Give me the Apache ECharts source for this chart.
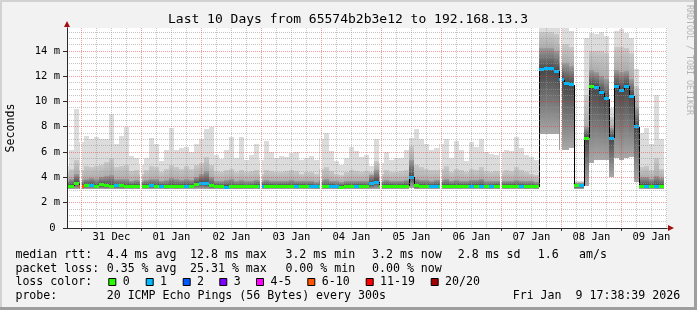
<!DOCTYPE html>
<html><head><meta charset="utf-8">
<script src="https://cdn.jsdelivr.net/npm/echarts@6/dist/echarts.min.js"></script>
<style>html,body{margin:0;padding:0;background:#f2f2f2}#c{width:697px;height:310px}</style>
</head><body><div id="c"></div>
<script>
// ---------- DATA ----------
// time axis in hours since 30 Dec 00:00
const axisStartHour = 18.24, axisEndHour = 258.24;
const bucketStartHour = 17 + 10 / 60;   // first 2-hour bucket starts 30 Dec 17:10
const bucketHours = 2;
const dayLabels = ['31 Dec','01 Jan','02 Jan','03 Jan','04 Jan','05 Jan','06 Jan','07 Jan','08 Jan','09 Jan'];
const labelHours = [36,60,84,108,132,156,180,204,228,252];
const majorHours = [24,48,72,96,120,144,168,192,216,240];
const minorHours = [30,36,42,54,60,66,78,84,90,102,108,114,126,132,138,150,156,162,174,180,186,198,204,210,222,228,234,246,252,258];
const gapHours = [24,48,96,120,144,168,192,216];
const yTicks = [0,2,4,6,8,10,12,14];
const yMinor = [0.5,1,1.5,2.5,3,3.5,4.5,5,5.5,6.5,7,7.5,8.5,9,9.5,10.5,11,11.5,12.5,13,13.5,14.5,15,15.5];

// RTT distribution per bucket (ms)
const lo = [3.05,3.05,3.1,3.05,3.05,3.05,3.05,3.05,3.05,3.05, 3.05,3.05,3.05,3.05,3.05,3.05,3.05,3.05,3.05,3.05,
 3.05,3.05,3.05,3.05,3.05,3.05,3.05,3.1,3.1,3.05, 3.05,3.05,3.05,3.05,3.05,3.05,3.05,3.05,3.05,3.05,
 3.05,3.05,3.05,3.05,3.05,3.05,3.05,3.05,3.05,3.05, 3.05,3.05,3.05,3.05,3.05,3.05,3.05,3.05,3.05,3.05,
 3.05,3.1,3.1,3.05,3.05,3.05,3.05,3.05,3.05,3.15, 3.05,3.05,3.05,3.05,3.05,3.05,3.05,3.05,3.05,3.05,
 3.05,3.05,3.05,3.05,3.05,3.05,3.05,3.05,3.05,3.05, 3.05,3.05,3.05,3.05,3.05,7.4,7.4,7.4,7.4,6.2,
 6.2,6.3,3.1,3.1,3.3,5.1,5.4,5.4,5.4,4.0, 5.5,5.4,5.5,5.6,3.6,3.05,3.05,3.05,3.05,3.05];
const med = [3.3,3.3,3.55,3.25,3.38,3.38,3.3,3.4,3.35,3.3, 3.35,3.35,3.3,3.3,3.3,3.3,3.3,3.32,3.3,3.28,
 3.25,3.3,3.25,3.28,3.3,3.3,3.45,3.55,3.5,3.35, 3.3,3.25,3.2,3.25,3.25,3.25,3.25,3.25,3.28,3.28,
 3.3,3.3,3.28,3.3,3.3,3.28,3.3,3.28,3.3,3.3, 3.25,3.25,3.25,3.3,3.25,3.22,3.3,3.3,3.3,3.28,
 3.3,3.5,3.6,3.28,3.3,3.3,3.28,3.3,3.3,4.0, 3.35,3.28,3.3,3.28,3.3,3.3,3.3,3.28,3.3,3.3,
 3.3,3.3,3.28,3.3,3.25,3.25,3.28,3.3,3.3,3.28, 3.3,3.28,3.25,3.3,3.25,12.5,12.6,12.6,12.4,11.7,
 11.4,11.3,3.35,3.35,7.1,11.2,11.1,10.7,10.2,7.1, 11.2,10.9,11.2,10.4,8.0,3.3,3.28,3.3,3.28,3.3];
const p75 = [3.75,3.85,4.3,3.8,3.9,3.95,3.85,4.0,4.1,4.2, 3.9,3.85,3.9,3.75,3.8,3.7,3.8,3.9,3.85,3.7,
 3.8,3.95,3.85,3.8,3.9,3.8,4.0,4.3,4.5,4.0, 3.75,3.7,3.8,3.85,3.7,3.8,3.7,3.75,3.8,3.7,
 3.8,3.75,3.7,3.7,3.75,3.8,3.75,3.7,3.75,3.7, 3.65,3.8,3.85,3.75,3.7,3.65,3.7,3.75,3.75,3.7,
 3.75,4.2,4.6,3.75,3.8,3.7,3.75,3.75,3.8,5.4, 3.9,3.8,3.8,3.75,3.8,3.8,3.85,3.75,3.8,3.75,
 3.7,3.8,3.8,3.85,3.75,3.7,3.75,3.7,3.75,3.7, 3.8,3.75,3.7,3.7,3.65,14.2,14.2,14.2,14.0,13.0,
 13.0,12.8,3.55,3.55,8.0,12.5,12.3,12.0,11.8,7.9, 12.5,12.3,12.4,11.8,9.5,4.0,4.0,3.9,4.1,3.95];
const p90 = [4.4,4.7,5.4,4.6,4.9,4.8,4.9,5.0,5.2,5.5, 4.8,4.9,5.0,4.5,4.6,4.3,4.6,4.9,4.8,4.4,
 4.7,5.0,4.8,4.7,4.9,4.7,5.0,5.1,5.6,5.0, 4.5,4.4,4.6,4.7,4.4,4.6,4.4,4.5,4.6,4.3,
 4.6,4.5,4.4,4.4,4.5,4.6,4.5,4.3,4.4,4.4, 4.3,4.7,4.8,4.5,4.3,4.2,4.4,4.6,4.5,4.4,
 4.5,4.4,5.3,4.3,4.6,4.4,4.4,4.5,4.6,6.5, 5.0,4.8,4.7,4.6,4.6,4.7,4.9,4.4,4.7,4.6,
 4.4,4.7,4.6,4.8,4.5,4.4,4.5,4.4,4.6,4.5, 4.8,4.6,4.4,4.3,4.2,15.5,15.5,15.5,15.3,14.5,
 14.5,14.3,3.65,3.65,10.5,14.0,14.0,14.0,13.8,8.8, 14.3,14.3,14.2,13.8,11.2,4.8,4.9,4.6,5.5,4.7];
const hi = [4.9,6.2,9.4,6.8,7.3,7.0,7.2,7.0,7.0,9.0, 6.6,7.3,8.0,5.7,5.5,5.0,5.5,7.1,6.6,5.3,
 6.2,7.9,6.2,6.3,6.4,6.0,6.6,7.0,7.8,8.0, 5.8,5.45,6.2,7.2,5.5,7.2,5.4,5.8,6.6,5.4,
 6.85,6.0,5.5,5.7,5.6,5.9,6.0,5.4,5.5,5.7, 5.4,7.0,7.5,6.05,5.3,5.0,5.5,6.4,6.05,5.6,
 5.8,4.9,7.0,5.1,6.0,5.4,5.5,5.5,6.2,7.1, 7.8,7.0,6.6,6.2,6.3,6.6,7.0,5.5,6.9,6.2,
 5.3,6.8,6.4,7.0,6.0,5.85,5.8,6.0,6.2,6.05, 7.2,6.3,5.8,5.6,5.4,16.5,16.5,16.5,16.2,15.8,
 15.8,15.6,3.7,3.7,15.0,15.4,15.3,15.5,15.2,9.5, 15.6,15.7,15.4,15.0,12.6,7.5,7.9,6.6,10.5,7.0];
// lost pings (of 20) per bucket
const loss = [0,0,0,7,0,1,0,0,0,0, 1,0,0,0,0,0,0,1,0,1,
 0,0,0,0,1,0,0,1,1,0, 0,0,1,0,0,0,0,0,0,1,
 0,0,0,0,0,0,1,0,0,1, 1,0,0,1,1,0,0,0,1,0,
 0,1,1,0,0,0,0,0,0,1, 0,0,0,1,1,0,0,0,0,0,
 0,1,0,1,0,1,0,0,0,0, 0,1,0,0,0,1,1,1,1,1,
 1,1,0,1,0,0,1,1,1,1, 1,1,1,1,1,0,1,0,1,0];

const lossLegend = [['0','#26ff00'],['1','#00b8ff'],['2','#0059ff'],['3','#7e00ff'],['4-5','#ff00ff'],['6-10','#ff5500'],['11-19','#ff0000'],['20/20','#a10000']];
function lossColor(n){
  if(n===0) return lossLegend[0][1];
  if(n===1) return lossLegend[1][1];
  if(n===2) return lossLegend[2][1];
  if(n===3) return lossLegend[3][1];
  if(n<=5) return lossLegend[4][1];
  if(n<=10) return lossLegend[5][1];
  if(n<=19) return lossLegend[6][1];
  return lossLegend[7][1];
}

// ---------- CHART ----------
const FONT = '"DejaVu Sans Mono", monospace';
const items = med.map((m, i) => [bucketStartHour + i * bucketHours, bucketStartHour + (i + 1) * bucketHours, lo[i], m, p75[i], p90[i], hi[i], loss[i]]);
const gapHalf = 0.4;
function spans(t0, t1){
  let segs = [[t0, t1]];
  gapHours.forEach(g => {
    const a = g - gapHalf, b = g + gapHalf, out = [];
    segs.forEach(([s, e]) => {
      if (b <= s || a >= e) { out.push([s, e]); return; }
      if (a > s) out.push([s, a]);
      if (e > b) out.push([b, e]);
    });
    segs = out;
  });
  return segs;
}
const G = (c0, c1) => new echarts.graphic.LinearGradient(0, 0, 0, 1, [{offset: 0, color: c0}, {offset: 1, color: c1}]);
const bandFills = [
  () => G('#474747', '#a9a9a9'),   // lo -> median
  () => G('#9c9c9c', '#474747'),   // median -> p75
  () => G('#c9c9c9', '#acacac'),   // p75 -> p90
  () => '#dcdcdc'                  // p90 -> max
];
function smokeItem(params, api){
  const t0 = api.value(0), t1 = api.value(1);
  const v = [api.value(2), api.value(3), api.value(4), api.value(5), api.value(6)];
  const children = [];
  spans(t0, t1).forEach(([s, e]) => {
    for (let k = 0; k < 4; k++) {
      if (v[k + 1] <= v[k]) continue;
      const pa = api.coord([s, v[k + 1]]), pb = api.coord([e, v[k]]);
      const x0 = Math.round(pa[0]), x1 = Math.round(pb[0]), y0 = Math.round(pa[1]), y1 = Math.round(pb[1]);
      if (x1 <= x0 || y1 <= y0) continue;
      children.push({type: 'rect', shape: {x: x0, y: y0, width: x1 - x0, height: y1 - y0}, style: {fill: bandFills[k]()}});
    }
  });
  return {type: 'group', children};
}
function medItem(params, api){
  const i = params.dataIndex;
  const t0 = api.value(0), t1 = api.value(1), m = api.value(3), l = api.value(7);
  const y = api.coord([t0, m])[1];
  const children = [];
  if (i > 0) {
    const yp = api.coord([t0, items[i - 1][3]])[1];
    if (Math.abs(yp - y) > 3) {
      const x = Math.round(api.coord([t0, m])[0]) + 0.5;
      children.push({type: 'line', shape: {x1: x, y1: Math.round(yp), x2: x, y2: Math.round(y)}, style: {stroke: '#000', lineWidth: 1}});
    }
  }
  spans(t0, t1).forEach(([s, e]) => {
    const x0 = Math.round(api.coord([s, m])[0]), x1 = Math.round(api.coord([e, m])[0]);
    if (x1 > x0) children.push({type: 'rect', shape: {x: x0, y: Math.round(y - 1.5), width: x1 - x0, height: 3}, style: {fill: lossColor(l)}});
  });
  return {type: 'group', children};
}

const axisFont = {fontFamily: FONT, fontSize: 10.5, color: '#000'};
const option = {
  backgroundColor: '#f2f2f2',
  animation: false,
  grid: {left: 67, top: 28, right: 30, bottom: 82, show: true, backgroundColor: '#ffffff', borderWidth: 0},
  xAxis: [
    {type: 'value', position: 'bottom', min: axisStartHour, max: axisEndHour, z: 5,
     axisLine: {show: true, lineStyle: {color: '#2a2a2a', width: 1}},
     axisTick: {show: true, customValues: majorHours, length: 3, lineStyle: {color: '#2a2a2a'}},
     axisLabel: Object.assign({customValues: labelHours, margin: 4, formatter: v => dayLabels[labelHours.indexOf(v)]}, axisFont),
     splitLine: {show: true, lineStyle: {color: 'rgba(232,40,40,0.45)', width: 1, type: [1, 1]}}},
    {type: 'value', position: 'bottom', min: axisStartHour, max: axisEndHour, z: 5,
     axisLine: {show: false}, axisTick: {show: false, customValues: minorHours}, axisLabel: {show: false},
     splitLine: {show: true, lineStyle: {color: 'rgba(150,150,150,0.55)', width: 1, type: [1, 1]}}},
    {type: 'value', position: 'bottom', min: axisStartHour, max: axisEndHour, z: 4,
     axisLine: {show: true, symbol: ['none', 'triangle'], symbolSize: [6, 6], symbolOffset: [0, 4], lineStyle: {color: '#a01010'}},
     axisTick: {show: false}, axisLabel: {show: false}, splitLine: {show: false}}
  ],
  yAxis: [
    {type: 'value', position: 'left', min: 0, max: 15.8, z: 5,
     axisLine: {show: true, lineStyle: {color: '#2a2a2a', width: 1}},
     axisTick: {show: true, customValues: yTicks, length: 4, lineStyle: {color: '#2a2a2a'}},
     axisLabel: Object.assign({customValues: yTicks, margin: 7, formatter: v => v === 0 ? '{z|0}' : v + ' m',
       rich: {z: {fontFamily: FONT, fontSize: 10.5, color: '#000', padding: [0, 4.5, 0, 0]}}}, axisFont),
     splitLine: {show: true, lineStyle: {color: 'rgba(232,40,40,0.45)', width: 1, type: [1, 1]}}},
    {type: 'value', position: 'left', min: 0, max: 15.8, z: 5,
     axisLine: {show: false}, axisTick: {show: false, customValues: yMinor}, axisLabel: {show: false},
     splitLine: {show: true, lineStyle: {color: 'rgba(150,150,150,0.55)', width: 1, type: [1, 1]}}},
    {type: 'value', position: 'left', min: 0, max: 15.8, z: 4,
     axisLine: {show: true, symbol: ['none', 'triangle'], symbolSize: [6, 6], symbolOffset: [0, 4], lineStyle: {color: '#a01010'}},
     axisTick: {show: false}, axisLabel: {show: false}, splitLine: {show: false}}
  ],
  series: [
    {type: 'custom', name: 'smoke', xAxisIndex: 0, yAxisIndex: 0, clip: true, z: 2, silent: true,
     renderItem: smokeItem, encode: {x: [0, 1], y: [2, 3, 4, 5, 6]}, data: items},
    {type: 'custom', name: 'median', xAxisIndex: 0, yAxisIndex: 0, clip: true, z: 3, silent: true,
     renderItem: medItem, encode: {x: [0, 1], y: [3]}, data: items}
  ],
  graphic: {elements: []}
};

// ---------- TEXT / LEGEND ----------
const els = option.graphic.elements;
const T = (x, y, text, size, extra) => els.push(Object.assign({type: 'text', x, y, silent: true,
  style: {text, font: size + 'px ' + FONT, fill: '#000', align: 'left', verticalAlign: 'middle', textAlign: 'left', textVerticalAlign: 'middle'}}, extra || {}));
// frame
els.push({type: 'rect', silent: true, shape: {x: 0, y: 0, width: 697, height: 2}, style: {fill: '#d2d2d2'}});
els.push({type: 'rect', silent: true, shape: {x: 0, y: 0, width: 2, height: 310}, style: {fill: '#d2d2d2'}});
els.push({type: 'rect', silent: true, shape: {x: 694, y: 0, width: 3, height: 310}, style: {fill: '#9e9e9e'}});
els.push({type: 'rect', silent: true, shape: {x: 0, y: 307, width: 697, height: 3}, style: {fill: '#9e9e9e'}});
// title
els.push({type: 'text', x: 348, y: 19.5, silent: true, style: {text: 'Last 10 Days from 65574b2b3e12 to 192.168.13.3', font: '13px ' + FONT, fill: '#000', align: 'center', verticalAlign: 'middle', textAlign: 'center', textVerticalAlign: 'middle'}});
// y axis name
els.push({type: 'text', x: 10.5, y: 128, rotation: Math.PI / 2, silent: true, style: {text: 'Seconds', font: '11.6px ' + FONT, fill: '#000', align: 'center', verticalAlign: 'middle', textAlign: 'center', textVerticalAlign: 'middle'}});
// watermark
els.push({type: 'text', x: 689, y: 60, rotation: -Math.PI / 2, silent: true, style: {text: 'RRDTOOL / TOBI OETIKER', font: '8.3px ' + FONT, fill: '#b4b4b4', align: 'center', verticalAlign: 'middle', textAlign: 'center', textVerticalAlign: 'middle'}});
const LF = 11.6;
const row1 = [[15.4, 'median rtt:'], [106.7, '4.4 ms avg'], [190, '12.8 ms max'], [285.4, '3.2 ms min'], [372, '3.2 ms now'], [457.7, '2.8 ms sd'], [537.7, '1.6'], [579, 'am/s']];
const row2 = [[15.4, 'packet loss:'], [106.7, '0.35 % avg'], [190, '25.31 % max'], [285.4, '0.00 % min'], [372, '0.00 % now']];
const row4 = [[15.4, 'probe:'], [106.7, '20 ICMP Echo Pings (56 Bytes) every 300s'], [512.7, 'Fri Jan  9 17:38:39 2026']];
row1.forEach(([x, t]) => T(x, 255, t, LF));
row2.forEach(([x, t]) => T(x, 268.5, t, LF));
row4.forEach(([x, t]) => T(x, 296, t, LF));
T(15.4, 282, 'loss color:', LF);
const swatchX = [108.3, 145.7, 182.7, 219.3, 256, 307.3, 365.7, 430.7];
lossLegend.forEach(([lab, col], k) => {
  els.push({type: 'rect', silent: true, shape: {x: swatchX[k] + 0.5, y: 278.5, width: 7, height: 7}, style: {fill: col, stroke: '#000', lineWidth: 1}});
  T(swatchX[k] + 14.4, 282, lab, LF);
});

const chart = echarts.init(document.getElementById('c'), null, {renderer: 'canvas'});
chart.setOption(option);
</script></body></html>
